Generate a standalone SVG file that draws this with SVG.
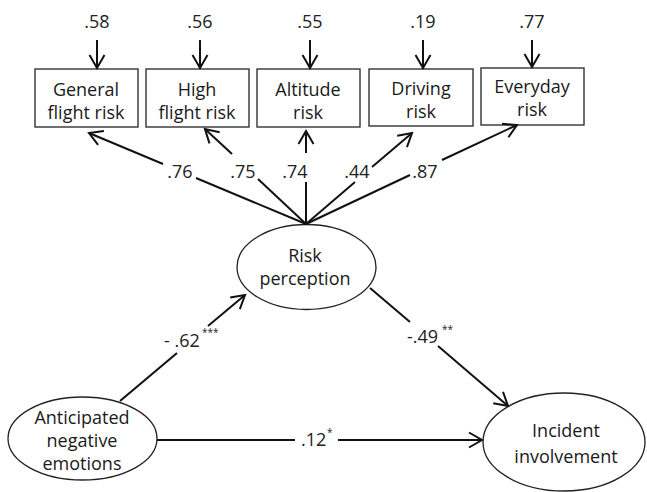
<svg xmlns="http://www.w3.org/2000/svg" width="647" height="492" viewBox="0 0 647 492">
<defs>
<style>
.box{fill:#fff;stroke:#333;stroke-width:1.4}
.ell{fill:#fff;stroke:#222;stroke-width:1.3}
.t{font-family:"Open Sans","Liberation Sans",sans-serif;font-size:18px;fill:#1a1a1a;text-anchor:middle}
.n{font-family:"Open Sans","Liberation Sans",sans-serif;font-size:18px;fill:#222;text-anchor:middle}
.nl{font-family:"Open Sans","Liberation Sans",sans-serif;font-size:18px;fill:#222;text-anchor:start}
.sup{font-family:"Open Sans","Liberation Sans",sans-serif;font-size:10px;fill:#222}
.c{fill:none;stroke:#111;stroke-width:2}
.ca{fill:none;stroke:#111;stroke-width:2;marker-end:url(#ah)}
</style>
<marker id="ah" markerUnits="userSpaceOnUse" markerWidth="20" markerHeight="20" viewBox="-15 -10 17 20" refX="0" refY="0" orient="auto">
<path d="M-13,-7.5 L0,0 L-13,7.5" fill="none" stroke="#111" stroke-width="2"/>
</marker>
</defs>

<g id="node-general">
<rect class="box" x="35" y="69" width="103" height="58"/>
<text class="t" x="86" y="96">General</text>
<text class="t" x="86" y="119">flight risk</text>
</g>
<g id="node-high">
<rect class="box" x="146" y="69" width="103" height="58"/>
<text class="t" x="197" y="96">High</text>
<text class="t" x="197" y="119">flight risk</text>
</g>
<g id="node-altitude">
<rect class="box" x="257" y="69" width="103" height="58"/>
<text class="t" x="308" y="96">Altitude</text>
<text class="t" x="308" y="119">risk</text>
</g>
<g id="node-driving">
<rect class="box" x="369" y="69" width="104" height="57"/>
<text class="t" x="421" y="95">Driving</text>
<text class="t" x="421" y="118">risk</text>
</g>
<g id="node-everyday">
<rect class="box" x="481" y="68" width="103" height="57"/>
<text class="t" x="532" y="93">Everyday</text>
<text class="t" x="532" y="116">risk</text>
</g>

<g id="node-risk">
<ellipse class="ell" cx="306.5" cy="267" rx="69.5" ry="42.5"/>
<text class="t" x="305" y="262">Risk</text>
<text class="t" x="305" y="285">perception</text>
</g>
<g id="node-anticipated">
<ellipse class="ell" cx="82.5" cy="438.5" rx="74.5" ry="41.5"/>
<text class="t" x="82" y="424">Anticipated</text>
<text class="t" x="82" y="447">negative</text>
<text class="t" x="82" y="470">emotions</text>
</g>
<g id="node-incident">
<ellipse class="ell" cx="564" cy="442" rx="81" ry="49"/>
<text class="t" x="566" y="437">Incident</text>
<text class="t" x="566" y="463">involvement</text>
</g>

<g id="connectors">
<!-- error terms -->
<text class="n" x="97" y="28">.58</text>
<line class="ca" x1="97" y1="40" x2="97" y2="68"/>
<text class="n" x="200" y="28">.56</text>
<line class="ca" x1="200" y1="40" x2="200" y2="68"/>
<text class="n" x="310" y="28">.55</text>
<line class="ca" x1="310" y1="40" x2="310" y2="68"/>
<text class="n" x="423" y="28">.19</text>
<line class="ca" x1="423" y1="40" x2="423" y2="68"/>
<text class="n" x="532" y="28">.77</text>
<line class="ca" x1="532" y1="40" x2="532" y2="67"/>

<!-- loadings -->
<line class="c" x1="306" y1="224" x2="196" y2="178"/>
<line class="ca" x1="163" y1="164" x2="89" y2="133"/>
<text class="n" x="180" y="178">.76</text>

<line class="c" x1="306" y1="224" x2="258" y2="179"/>
<line class="ca" x1="232" y1="154" x2="205" y2="129"/>
<text class="n" x="243" y="178">.75</text>

<line class="c" x1="306" y1="224" x2="306" y2="182"/>
<line class="ca" x1="306" y1="153" x2="306" y2="131"/>
<text class="n" x="295" y="178">.74</text>

<line class="c" x1="306" y1="224" x2="355" y2="182"/>
<line class="ca" x1="372" y1="167" x2="412" y2="133"/>
<text class="n" x="357" y="178">.44</text>

<line class="c" x1="306" y1="224" x2="410" y2="175"/>
<line class="ca" x1="442" y1="160" x2="517" y2="125"/>
<text class="n" x="425" y="178">.87</text>

<!-- structural paths -->
<line class="c" x1="120" y1="401" x2="177" y2="353"/>
<line class="ca" x1="208" y1="326" x2="245" y2="295"/>
<text class="nl" x="164" y="347">- .62</text>
<text class="sup" x="202" y="336">***</text>

<line class="c" x1="370" y1="288" x2="410" y2="322"/>
<line class="ca" x1="438" y1="346" x2="508" y2="406"/>
<text class="nl" x="407" y="343">-.49</text>
<text class="sup" x="442" y="333">**</text>

<line class="c" x1="157" y1="440" x2="295" y2="440"/>
<line class="ca" x1="338" y1="440" x2="482" y2="440"/>
<text class="nl" x="301" y="446">.12</text>
<text class="sup" x="327" y="436">*</text>
</g>
</svg>
